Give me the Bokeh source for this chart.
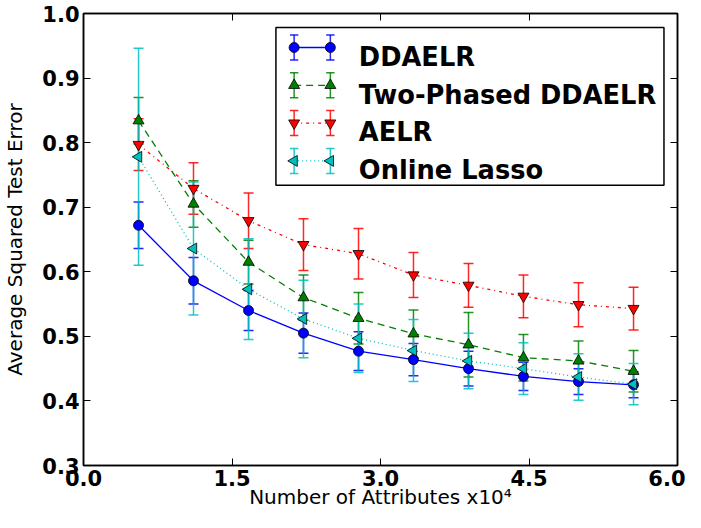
import math
from bokeh.plotting import figure
from bokeh.models import (ColumnDataSource, Whisker, TeeHead, LinearAxis, FixedTicker,
                          NumeralTickFormatter, Range1d, CustomJSTickFormatter)
from bokeh.core.properties import value
from bokeh.embed import file_html
from bokeh.resources import INLINE

# ---- data (x in units of 10^4 attributes) ----
x_vals = [0.556, 1.111, 1.667, 2.222, 2.778, 3.333, 3.889, 4.444, 5.0, 5.556]

ddaelr_mean = [0.672, 0.586, 0.540, 0.505, 0.477, 0.464, 0.450, 0.438, 0.430, 0.425]
ddaelr_err = [0.036, 0.036, 0.031, 0.031, 0.030, 0.025, 0.027, 0.022, 0.020, 0.020]

two_phased_mean = [0.834, 0.705, 0.615, 0.560, 0.528, 0.504, 0.487, 0.467, 0.462, 0.446]
two_phased_err = [0.036, 0.036, 0.034, 0.035, 0.040, 0.037, 0.050, 0.036, 0.031, 0.032]

aelr_mean = [0.797, 0.729, 0.679, 0.642, 0.628, 0.595, 0.579, 0.562, 0.549, 0.543]
aelr_err = [0.040, 0.040, 0.043, 0.040, 0.039, 0.035, 0.034, 0.033, 0.034, 0.033]

lasso_mean = [0.778, 0.636, 0.573, 0.527, 0.497, 0.478, 0.462, 0.450, 0.437, 0.426]
lasso_err = [0.168, 0.103, 0.078, 0.060, 0.053, 0.048, 0.043, 0.040, 0.036, 0.032]

series_names = ["DDAELR", "Two-Phased DDAELR", "AELR", "Online Lasso"]
x_ticks = [0.0, 1.5, 3.0, 4.5, 6.0]
y_ticks = [0.3, 0.4, 0.5, 0.6, 0.7, 0.8, 0.9, 1.0]
x_label = "Number of Attributes x10\u2074"
y_label = "Average Squared Test Error"

# ---- figure ----
TOP_B, BOT_B = 13, 47
FRAME_W, FRAME_H = 597, 512 - TOP_B - BOT_B
p = figure(width=685, height=512, x_range=Range1d(0, 6), y_range=Range1d(0.3, 1.0),
           output_backend="svg", toolbar_location=None,
           min_border_left=80, min_border_right=8, min_border_top=TOP_B,
           min_border_bottom=BOT_B)
p.grid.visible = False
p.outline_line_color = "black"
p.outline_line_width = 1.5
# pixel-like helper ranges for the legend box (origin at frame's top-right corner)
p.extra_x_ranges = {"lx": Range1d(-FRAME_W, 0)}
p.extra_y_ranges = {"ly": Range1d(FRAME_H, 0)}

FONT = "DejaVu Sans"

def style_axis(ax, ticks, show_labels):
    ax.ticker = FixedTicker(ticks=ticks)
    ax.axis_line_color = "black"
    ax.axis_line_width = 1.5
    ax.major_tick_in = 7
    ax.major_tick_out = 0
    ax.minor_tick_in = 0
    ax.minor_tick_out = 0
    ax.major_tick_line_width = 1
    if show_labels:
        ax.formatter = NumeralTickFormatter(format="0.0")
        ax.major_label_text_font = FONT
        ax.major_label_text_font_style = "bold"
        ax.major_label_text_font_size = "21px"
        ax.major_label_text_color = "black"
        ax.axis_label_text_font = FONT
        ax.axis_label_text_font_style = "normal"
        ax.axis_label_text_color = "black"
    else:
        ax.formatter = CustomJSTickFormatter(code="return ''")
        ax.major_label_standoff = 0

for ax in p.xaxis:
    style_axis(ax, x_ticks, True)
    ax.major_label_standoff = 4
    ax.axis_label = x_label
    ax.axis_label_text_font_size = "20px"
    ax.axis_label_standoff = -4
for ax in p.yaxis:
    style_axis(ax, y_ticks, True)
    ax.major_label_standoff = 4
    ax.axis_label = y_label
    ax.axis_label_text_font_size = "20px"
    ax.axis_label_standoff = 12

top_ax = LinearAxis()
style_axis(top_ax, x_ticks, False)
p.add_layout(top_ax, "above")
right_ax = LinearAxis()
style_axis(right_ax, y_ticks, False)
p.add_layout(right_ax, "right")

# ---- series ----
specs = [
    (ddaelr_mean, ddaelr_err, "#0000ff", "solid", "circle", 0.0, 10),
    (two_phased_mean, two_phased_err, "#008000", "7 5", "triangle", 0.0, 11),
    (aelr_mean, aelr_err, "#ff0000", "3 4 1 4", "inverted_triangle", 0.0, 11),
    (lasso_mean, lasso_err, "#00bfbf", "1 3", "triangle", math.pi / 2, 11),
]

for name, (mean, err, color, dash, marker, ang, size) in zip(series_names, specs):
    src = ColumnDataSource(dict(
        x=x_vals, y=mean,
        upper=[m + e for m, e in zip(mean, err)],
        lower=[m - e for m, e in zip(mean, err)],
    ))
    w = Whisker(source=src, base="x", upper="upper", lower="lower",
                line_color=color, line_width=1.5, line_alpha=0.85,
                upper_head=TeeHead(size=10, line_color=color, line_width=1.5, line_alpha=0.85),
                lower_head=TeeHead(size=10, line_color=color, line_width=1.5, line_alpha=0.85))
    p.add_layout(w)
    p.line("x", "y", source=src, line_color=color, line_width=1.3, line_dash=dash)
    p.scatter("x", "y", source=src, marker=marker, angle=ang, size=size,
              fill_color=color, line_color="black", line_width=0.8)

# ---- legend (matplotlib style: marker+errorbar, line, marker+errorbar) ----
# layout in pixels from the frame's top-right corner (x to the left negative, y downward)
LEG_LEFT, LEG_RIGHT, LEG_TOP, LEG_BOTTOM = -403.6, -13.6, 14.0, 171.7
ROW0, ROW_STEP = 34.0, 37.8
MK1, MK2 = -385.3, -348.9
TXT_X = -320.3
BAR_HALF, CAP_HALF = 12.5, 4.2

p.quad(left=[LEG_LEFT], right=[LEG_RIGHT], top=[LEG_TOP], bottom=[LEG_BOTTOM],
       x_range_name="lx", y_range_name="ly", fill_color="white",
       line_color="black", line_width=1.5)

for i, (name, (mean, err, color, dash, marker, ang, size)) in enumerate(zip(series_names, specs)):
    cy = ROW0 + i * ROW_STEP
    bx0, by0, bx1, by1 = [], [], [], []
    for mx in (MK1, MK2):
        bx0 += [mx, mx - CAP_HALF, mx - CAP_HALF]
        bx1 += [mx, mx + CAP_HALF, mx + CAP_HALF]
        by0 += [cy - BAR_HALF, cy - BAR_HALF, cy + BAR_HALF]
        by1 += [cy + BAR_HALF, cy - BAR_HALF, cy + BAR_HALF]
    p.segment(x0=bx0, y0=by0, x1=bx1, y1=by1, x_range_name="lx", y_range_name="ly",
              line_color=color, line_width=1.5, line_alpha=0.85)
    p.line(x=[MK1, MK2], y=[cy, cy], x_range_name="lx", y_range_name="ly",
           line_color=color, line_width=1.3, line_dash=dash)
    p.scatter(x=[MK1, MK2], y=[cy, cy], x_range_name="lx", y_range_name="ly",
              marker=marker, angle=ang, size=size, fill_color=color,
              line_color="black", line_width=0.8)
    p.text(x=[TXT_X], y=[cy + 9.3], text=[name], x_range_name="lx", y_range_name="ly",
           text_font=value(FONT), text_font_style="bold", text_font_size="25.7px",
           text_color="black", text_baseline="alphabetic", text_align="left")

open("out.html", "w").write(file_html(p, INLINE))
